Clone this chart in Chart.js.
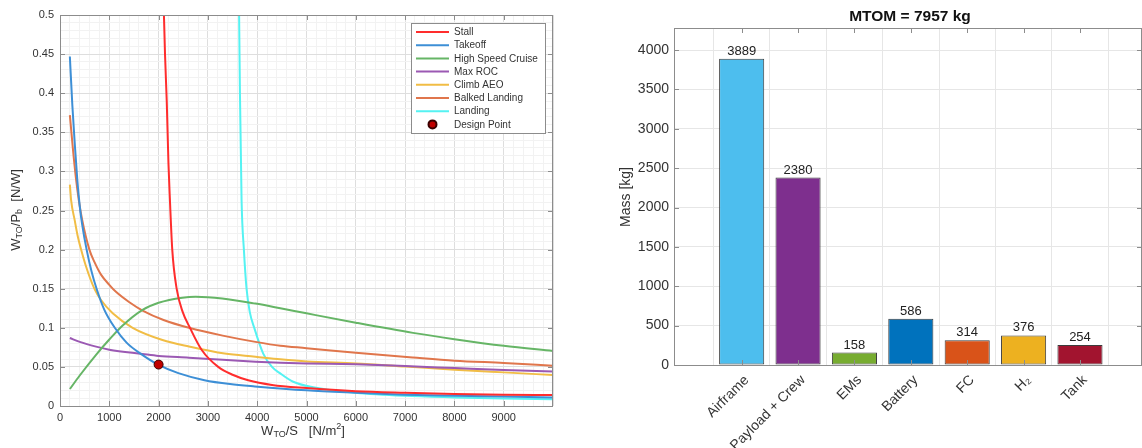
<!DOCTYPE html>
<html>
<head>
<meta charset="utf-8">
<script src="https://cdn.jsdelivr.net/npm/chart.js@4.4.0/dist/chart.umd.min.js"></script>
<style>
  html, body { margin: 0; padding: 0; background: #fff; }
  body { width: 1142px; height: 448px; position: relative; overflow: hidden; }
  #wrapL { position: absolute; left: 0; top: 0; width: 570px; height: 448px; }
  #wrapR { position: absolute; left: 580px; top: 0; width: 562px; height: 448px; }
</style>
</head>
<body>
<div id="wrapL"><canvas id="constraintChart"></canvas></div>
<div id="wrapR"><canvas id="massChart"></canvas></div>
<script>
// constraint diagram data: wing loading W/S [N/m2] vs power loading W/P [N/W]
const stallWS  = [2100, 2130, 2165, 2200, 2230, 2277, 2366, 2490, 2636, 2872, 3209, 3500, 3817, 4300, 5000, 6000, 7000, 8000, 9000, 10000];
const stallPW  = [0.52, 0.45, 0.39, 0.31, 0.263, 0.2, 0.15, 0.12, 0.1, 0.072, 0.05, 0.04, 0.033, 0.027, 0.023, 0.019, 0.017, 0.0155, 0.0145, 0.014];

const takeoffWS = [200, 250, 300, 350, 400, 450, 540, 640, 742, 900, 1112, 1350, 1655, 2000, 2400, 2930, 3450, 3953, 5000, 6000, 7000, 8000, 9000, 10000];
const takeoffPW = [0.447, 0.385, 0.335, 0.29, 0.256, 0.232, 0.2, 0.172, 0.15, 0.123, 0.1, 0.081, 0.066, 0.0525, 0.042, 0.033, 0.028, 0.025, 0.02, 0.017, 0.0145, 0.013, 0.012, 0.011];

const cruiseWS = [200, 400, 731, 1000, 1271, 1675, 2000, 2483, 2752, 3291, 3964, 4469, 5000, 6000, 7160, 8000, 9000, 10000];
const cruisePW = [0.0217, 0.039, 0.0655, 0.085, 0.103, 0.123, 0.132, 0.1385, 0.1397, 0.1375, 0.131, 0.125, 0.1185, 0.1065, 0.0935, 0.0855, 0.077, 0.0703];

const rocWS = [200, 400, 731, 1000, 1675, 2000, 2616, 3300, 3964, 4469, 5000, 6000, 7000, 8000, 9000, 10000];
const rocPW = [0.087, 0.082, 0.0759, 0.072, 0.0665, 0.064, 0.0618, 0.059, 0.0567, 0.0554, 0.0545, 0.0533, 0.051, 0.0485, 0.046, 0.044];

const climbWS = [200, 226, 300, 360, 428, 520, 697, 832, 1069, 1473, 2079, 2616, 3340, 3964, 4469, 5000, 6000, 7000, 8000, 9000, 10000];
const climbPW = [0.283, 0.263, 0.237, 0.217, 0.2, 0.18, 0.15, 0.1355, 0.1185, 0.1, 0.0844, 0.076, 0.067, 0.063, 0.0597, 0.057, 0.0545, 0.0505, 0.0465, 0.043, 0.0396];

const balkedWS = [200, 260, 320, 382, 450, 596, 700, 832, 1000, 1135, 1400, 1675, 2100, 2616, 3300, 3964, 4469, 5000, 6000, 7160, 8000, 9000, 10000];
const balkedPW = [0.372, 0.33, 0.293, 0.263, 0.238, 0.2, 0.184, 0.168, 0.155, 0.146, 0.133, 0.122, 0.11, 0.1, 0.09, 0.082, 0.077, 0.074, 0.068, 0.062, 0.058, 0.055, 0.0516];

const landingWS = [3630, 3650, 3683, 3730, 3784, 3850, 3940, 4122, 4300, 4460, 4730, 5135, 6000, 7000, 8000, 9000, 10000];
const landingPW = [0.52, 0.4, 0.263, 0.2, 0.15, 0.12, 0.1, 0.067, 0.05, 0.042, 0.031, 0.024, 0.017, 0.013, 0.011, 0.0095, 0.0085];

const designWS = 2000;
const designPW = 0.053;

// mass breakdown data
const massCategories = ['Airframe', 'Payload + Crew', 'EMs', 'Battery', 'FC', 'H\u2082', 'Tank'];
const massValues     = [3889, 2380, 158, 586, 314, 376, 254];
const massColors     = ['#4dbeee', '#7e2f8e', '#77ac30', '#0072bd', '#d95319', '#edb120', '#a2142f'];
const massTicks      = [0, 500, 1000, 1500, 2000, 2500, 3000, 3500, 4000];
const mtom = 7957;

const FONT = "'Liberation Sans', Arial, sans-serif";
const TEXT = '#333';

// text with sub/superscripts, centred on (x, y)
function drawRich(ctx, parts, x, y, size, rot, weight) {
  ctx.save();
  ctx.translate(x, y);
  if (rot) ctx.rotate(rot);
  ctx.fillStyle = TEXT;
  ctx.textBaseline = 'middle';
  ctx.textAlign = 'left';
  const small = Math.round(size * 0.72);
  const w = weight ? weight + ' ' : '';
  let total = 0;
  parts.forEach(([t, k]) => {
    ctx.font = w + (k === 'n' ? size : small) + 'px ' + FONT;
    total += ctx.measureText(t).width;
  });
  let cx = -total / 2;
  parts.forEach(([t, k]) => {
    ctx.font = w + (k === 'n' ? size : small) + 'px ' + FONT;
    const dy = k === 'sub' ? size * 0.3 : (k === 'sup' ? -size * 0.35 : 0);
    ctx.fillText(t, cx, dy);
    cx += ctx.measureText(t).width;
  });
  ctx.restore();
}

// matlab style box with inward ticks
function boxPlugin(xMajor, yMajor) {
  return {
    id: 'axesBox',
    afterDatasetsDraw(chart) {
      const { ctx, chartArea: a, scales } = chart;
      ctx.save();
      ctx.strokeStyle = '#8c8c8c';
      ctx.lineWidth = 1;
      ctx.strokeRect(a.left + 0.5, a.top + 0.5, a.right - a.left - 1, a.bottom - a.top);
      ctx.beginPath();
      scales.x.ticks.forEach(t => {
        if (!xMajor(t.value)) return;
        const px = Math.round(scales.x.getPixelForValue(t.value)) + 0.5;
        ctx.moveTo(px, a.bottom); ctx.lineTo(px, a.bottom - 5);
        ctx.moveTo(px, a.top); ctx.lineTo(px, a.top + 5);
      });
      scales.y.ticks.forEach(t => {
        if (!yMajor(t.value)) return;
        const py = Math.round(scales.y.getPixelForValue(t.value)) + 0.5;
        ctx.moveTo(a.left, py); ctx.lineTo(a.left + 5, py);
        ctx.moveTo(a.right, py); ctx.lineTo(a.right - 5, py);
      });
      ctx.stroke();
      ctx.restore();
    }
  };
}

const isMajorWS = v => Math.round(v) % 1000 === 0 && v < 10000 && v > 0;
const isMajorPW = v => Math.round(v * 100) % 5 === 0 && v > 0 && v < 0.5;

// left chart
const curves = [
  ['Stall', stallWS, stallPW, '#ff2d2d'],
  ['Takeoff', takeoffWS, takeoffPW, '#3d8fd6'],
  ['High Speed Cruise', cruiseWS, cruisePW, '#66b566'],
  ['Max ROC', rocWS, rocPW, '#9b59b3'],
  ['Climb AEO', climbWS, climbPW, '#f1bd45'],
  ['Balked Landing', balkedWS, balkedPW, '#e0764c'],
  ['Landing', landingWS, landingPW, '#55f2f2']
];

const lineSets = curves.map(([label, xs, ys, color]) => ({
  label,
  data: xs.map((x, i) => ({ x, y: ys[i] })),
  borderColor: color,
  backgroundColor: color,
  borderWidth: 2,
  pointRadius: 0,
  cubicInterpolationMode: 'monotone',
  fill: false
}));
lineSets.push({
  label: 'Design Point',
  data: [{ x: designWS, y: designPW }],
  showLine: false,
  pointRadius: 4.5,
  pointBackgroundColor: '#c00000',
  pointBorderColor: '#3a0000',
  pointBorderWidth: 1,
  order: -1
});

const legendPlugin = {
  id: 'boxLegend',
  afterDraw(chart) {
    const { ctx, chartArea: a } = chart;
    const w = 134, h = 110;
    const left = a.right - 8 - w, top = a.top + 8;
    ctx.save();
    ctx.fillStyle = '#fff';
    ctx.fillRect(left, top, w, h);
    ctx.strokeStyle = '#8c8c8c';
    ctx.lineWidth = 1;
    ctx.strokeRect(left + 0.5, top + 0.5, w, h);
    ctx.font = '10px ' + FONT;
    ctx.textBaseline = 'middle';
    ctx.textAlign = 'left';
    chart.data.datasets.forEach((ds, i) => {
      const y = top + 9 + i * 13.2;
      if (ds.showLine === false) {
        ctx.beginPath();
        ctx.arc(left + 21.5, y, 4, 0, Math.PI * 2);
        ctx.fillStyle = ds.pointBackgroundColor;
        ctx.fill();
        ctx.strokeStyle = ds.pointBorderColor;
        ctx.stroke();
      } else {
        ctx.strokeStyle = ds.borderColor;
        ctx.lineWidth = 2;
        ctx.beginPath();
        ctx.moveTo(left + 5, y);
        ctx.lineTo(left + 38, y);
        ctx.stroke();
      }
      ctx.fillStyle = TEXT;
      ctx.fillText(ds.label, left + 43, y + 0.5);
    });
    ctx.restore();
  }
};

const leftTitles = {
  id: 'leftTitles',
  afterDraw(chart) {
    const { ctx } = chart;
    drawRich(ctx, [['W', 'n'], ['TO', 'sub'], ['/P', 'n'], ['b', 'sub'], ['  [N/W]', 'n']], 16, 210, 13, -Math.PI / 2);
    drawRich(ctx, [['W', 'n'], ['TO', 'sub'], ['/S   [N/m', 'n'], ['2', 'sup'], [']', 'n']], 303, 431, 13, 0);
  }
};

new Chart(document.getElementById('constraintChart'), {
  type: 'line',
  data: { datasets: lineSets },
  options: {
    responsive: true,
    maintainAspectRatio: false,
    animation: false,
    layout: { padding: { top: 15, right: 17, left: 0, bottom: 0 } },
    plugins: { legend: { display: false }, tooltip: { enabled: false } },
    scales: {
      x: {
        type: 'linear',
        min: 0, max: 10000,
        afterFit: s => { s.height = 42; },
        border: { display: false },
        grid: {
          drawTicks: false,
          color: c => (Math.round(c.tick.value) % 1000 === 0 ? '#dedede' : '#f2f2f2')
        },
        ticks: {
          stepSize: 200,
          autoSkip: false,
          maxRotation: 0,
          padding: 5,
          color: TEXT,
          font: { family: FONT, size: 11 },
          callback: v => (Math.round(v) % 1000 === 0 && v < 10000 ? String(v) : '')
        }
      },
      y: {
        min: 0, max: 0.5,
        afterFit: s => { s.width = 60; },
        border: { display: false },
        grid: {
          drawTicks: false,
          color: c => (Math.round(c.tick.value * 100) % 5 === 0 ? '#dedede' : '#f2f2f2')
        },
        ticks: {
          stepSize: 0.01,
          autoSkip: false,
          padding: 6,
          color: TEXT,
          font: { family: FONT, size: 11 },
          callback: v => (Math.round(v * 100) % 5 === 0 ? String(+v.toFixed(2)) : '')
        }
      }
    }
  },
  plugins: [boxPlugin(isMajorWS, isMajorPW), legendPlugin, leftTitles]
});

// right chart
const barLabels = {
  id: 'barLabels',
  afterDraw(chart) {
    const { ctx } = chart;
    const meta = chart.getDatasetMeta(0);
    ctx.save();
    ctx.font = '13px ' + FONT;
    ctx.fillStyle = '#222';
    ctx.textAlign = 'center';
    ctx.textBaseline = 'bottom';
    meta.data.forEach((bar, i) => {
      ctx.fillText(String(massValues[i]), bar.x, bar.y - 1);
    });
    ctx.font = 'bold 15.5px ' + FONT;
    ctx.fillStyle = '#111';
    ctx.textBaseline = 'middle';
    ctx.fillText('MTOM = ' + mtom + ' kg', 330, 17);
    ctx.restore();
    drawRich(ctx, [['Mass [kg]', 'n']], 46, 197, 14, -Math.PI / 2);
  }
};

new Chart(document.getElementById('massChart'), {
  type: 'bar',
  data: {
    datasets: [{
      label: 'Mass',
      data: massValues.map((m, i) => ({ x: i + 1, y: m })),
      backgroundColor: massColors,
      borderColor: '#3c3c3c',
      borderWidth: 1,
      borderSkipped: false,
      barPercentage: 0.8,
      categoryPercentage: 1
    }]
  },
  options: {
    responsive: true,
    maintainAspectRatio: false,
    animation: false,
    layout: { padding: { top: 28, right: 0, left: 0, bottom: 0 } },
    plugins: { legend: { display: false }, tooltip: { enabled: false } },
    scales: {
      x: {
        type: 'linear',
        min: -0.2, max: 8.1,
        offset: false,
        afterFit: s => { s.height = 83; },
        afterBuildTicks: s => { s.ticks = massCategories.map((_, i) => ({ value: i + 1 })); },
        border: { display: false },
        grid: { drawTicks: false, color: '#e6e6e6' },
        ticks: {
          autoSkip: false,
          minRotation: 45,
          maxRotation: 45,
          padding: 7,
          labelOffset: 5,
          color: TEXT,
          font: { family: FONT, size: 14 },
          callback: v => massCategories[v - 1] || ''
        }
      },
      y: {
        min: 0, max: 4280,
        afterFit: s => { s.width = 94; },
        afterBuildTicks: s => { s.ticks = massTicks.map(v => ({ value: v })); },
        border: { display: false },
        grid: { drawTicks: false, color: '#e6e6e6' },
        ticks: {
          padding: 5,
          color: TEXT,
          font: { family: FONT, size: 14 },
          callback: v => String(v)
        }
      }
    }
  },
  plugins: [boxPlugin(v => true, v => v > 0 && v < 4280), barLabels]
});
</script>
</body>
</html>
